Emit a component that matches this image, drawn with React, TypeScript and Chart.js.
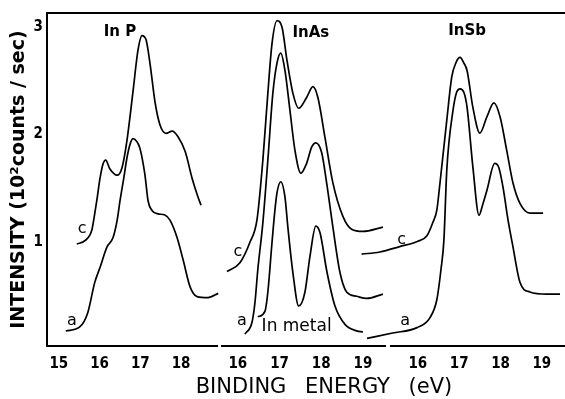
import React, { useEffect, useRef } from "react";
import { Chart, registerables } from "chart.js";
Chart.register(...registerables);

// ---------- data (binding energy in eV, intensity in 10^2 counts/sec) ----------
// InP panel
const inpC_E = [15.44, 15.64, 15.81, 15.88, 15.93, 16.01, 16.08, 16.15, 16.25, 16.43, 16.55, 16.67, 16.82, 16.94, 17.04, 17.14, 17.24, 17.36, 17.48, 17.63, 17.78, 17.92, 18.10, 18.27, 18.42, 18.49];
const inpC_I = [0.98, 1.01, 1.11, 1.26, 1.38, 1.59, 1.72, 1.76, 1.68, 1.62, 1.69, 1.94, 2.40, 2.78, 2.92, 2.88, 2.65, 2.30, 2.09, 2.01, 2.03, 1.98, 1.84, 1.59, 1.41, 1.34];
const inpA_E = [15.17, 15.52, 15.71, 15.88, 16.01, 16.18, 16.33, 16.43, 16.50, 16.60, 16.67, 16.74, 16.82, 16.92, 16.99, 17.11, 17.19, 17.29, 17.43, 17.60, 17.73, 17.90, 18.05, 18.22, 18.39, 18.66, 18.91];
const inpA_I = [0.17, 0.21, 0.34, 0.62, 0.76, 0.95, 1.04, 1.20, 1.38, 1.61, 1.78, 1.90, 1.96, 1.93, 1.87, 1.63, 1.38, 1.29, 1.26, 1.25, 1.20, 1.04, 0.83, 0.58, 0.49, 0.48, 0.52];

// InAs panel
const inasC_E = [15.74, 16.05, 16.29, 16.46, 16.60, 16.72, 16.82, 16.94, 17.06, 17.18, 17.32, 17.46, 17.65, 17.80, 17.92, 18.09, 18.28, 18.52, 18.73, 19.00, 19.48];
const inasC_I = [0.72, 0.80, 0.99, 1.20, 1.75, 2.37, 2.83, 3.04, 2.98, 2.67, 2.37, 2.23, 2.33, 2.43, 2.33, 1.96, 1.54, 1.23, 1.11, 1.09, 1.13];
const inasA_E = [16.17, 16.34, 16.41, 16.48, 16.60, 16.72, 16.84, 16.94, 17.03, 17.13, 17.25, 17.37, 17.51, 17.65, 17.77, 17.87, 18.01, 18.13, 18.28, 18.45, 18.61, 18.85, 19.09, 19.48];
const inasA_I = [0.14, 0.25, 0.43, 0.74, 1.17, 1.75, 2.37, 2.65, 2.74, 2.58, 2.21, 1.84, 1.63, 1.72, 1.87, 1.91, 1.82, 1.54, 1.13, 0.71, 0.53, 0.49, 0.47, 0.51];
const inMetal_E = [16.48, 16.65, 16.72, 16.82, 16.89, 16.94, 17.03, 17.13, 17.20, 17.32, 17.46, 17.61, 17.73, 17.87, 17.97, 18.14, 18.33, 18.57, 18.85, 19.00];
const inMetal_I = [0.30, 0.35, 0.53, 0.99, 1.29, 1.45, 1.55, 1.41, 1.13, 0.71, 0.40, 0.53, 0.86, 1.14, 1.08, 0.71, 0.40, 0.23, 0.17, 0.16];

// InSb panel
const insbC_E = [14.64, 15.08, 15.56, 16.00, 16.22, 16.36, 16.46, 16.53, 16.70, 16.82, 16.92, 17.02, 17.11, 17.19, 17.33, 17.50, 17.67, 17.84, 17.99, 18.15, 18.30, 18.47, 18.71, 19.03];
const insbC_I = [0.88, 0.90, 0.95, 1.00, 1.05, 1.17, 1.29, 1.52, 2.12, 2.52, 2.65, 2.70, 2.65, 2.58, 2.24, 2.00, 2.15, 2.28, 2.15, 1.84, 1.54, 1.35, 1.26, 1.26];
const insbA_E = [14.77, 15.39, 15.98, 16.29, 16.46, 16.56, 16.63, 16.70, 16.85, 16.94, 17.02, 17.11, 17.19, 17.33, 17.48, 17.57, 17.67, 17.86, 17.96, 18.06, 18.18, 18.30, 18.47, 18.71, 19.12, 19.44];
const insbA_I = [0.10, 0.15, 0.20, 0.29, 0.46, 0.74, 1.01, 1.66, 2.21, 2.38, 2.41, 2.38, 2.24, 1.69, 1.24, 1.34, 1.47, 1.72, 1.68, 1.50, 1.20, 0.95, 0.62, 0.53, 0.51, 0.51];

// tick labels
const ticksInP = [15, 16, 17, 18];
const ticksInAs = [16, 17, 18, 19];
const ticksInSb = [16, 17, 18, 19];
const yTicks = [1, 2, 3];

// text labels: [text, energy, intensity]
const labelsInP: [string, number, number][] = [["In P", 16.5, 2.95], ["c", 15.57, 1.12], ["a", 15.32, 0.26]];
const labelsInAs: [string, number, number][] = [["InAs", 17.75, 2.93], ["c", 16.0, 0.9], ["a", 16.1, 0.26], ["In metal", 17.41, 0.21]];
const labelsInSb: [string, number, number][] = [["InSb", 17.19, 2.94], ["c", 15.61, 1.01], ["a", 15.69, 0.26]];

const W = 565;
const H = 399;
const TICK_FONT = "'DejaVu Sans Condensed', 'Liberation Sans Narrow', 'DejaVu Sans', sans-serif";
const LABEL_FONT = "'DejaVu Sans', sans-serif";

const zip = (e: number[], v: number[]) => e.map((x, i) => ({ x, y: v[i] }));

type Panel = {
  series: { x: number; y: number }[][];
  ticks: number[];
  min: number;
  max: number;
  padLeft: number;
  padRight: number;
  showY: boolean;
  labels: [string, number, number][];
  extra?: (chart: any) => void;
};

const panels: Panel[] = [
  {
    series: [zip(inpC_E, inpC_I), zip(inpA_E, inpA_I)],
    ticks: ticksInP, min: 14.71, max: 18.88, padLeft: 0, padRight: 348, showY: true, labels: labelsInP,
    extra: (chart) => {
      const { ctx, chartArea } = chart;
      ctx.save();
      ctx.strokeStyle = "#000";
      ctx.lineWidth = 2;
      ctx.beginPath();
      ctx.moveTo(chartArea.left - 1, chartArea.top);
      ctx.lineTo(W, chartArea.top);
      ctx.stroke();
      ctx.restore();
    },
  },
  {
    series: [zip(inasC_E, inasC_I), zip(inasA_E, inasA_I), zip(inMetal_E, inMetal_I)],
    ticks: ticksInAs, min: 15.62, max: 19.53, padLeft: 222, padRight: 180, showY: false, labels: labelsInAs,
    extra: (chart) => {
      const { ctx } = chart;
      ctx.save();
      ctx.fillStyle = "#000";
      ctx.font = "21px 'DejaVu Sans', sans-serif";
      try { (ctx as any).wordSpacing = "12px"; } catch (e) {}
      ctx.textAlign = "center";
      ctx.textBaseline = "middle";
      ctx.fillText("BINDING ENERGY (eV)", 324, 388);
      ctx.restore();
    },
  },
  {
    series: [zip(insbC_E, insbC_I), zip(insbA_E, insbA_I)],
    ticks: ticksInSb, min: 15.35, max: 19.56, padLeft: 391, padRight: 0, showY: false, labels: labelsInSb,
  },
];

function PanelChart({ p }: { p: Panel }) {
  const ref = useRef<HTMLCanvasElement>(null);
  useEffect(() => {
    if (!ref.current) return;
    const labelPlugin = {
      id: "panelLabels",
      afterDraw(chart: any) {
        const { ctx, scales } = chart;
        ctx.save();
        ctx.fillStyle = "#000";
        ctx.textAlign = "center";
        ctx.textBaseline = "middle";
        for (const [t, e, v] of p.labels) {
          const isName = t.startsWith("In") && t !== "In metal";
          ctx.font = isName ? `bold 15px ${LABEL_FONT}` : t === "In metal" ? `17px ${LABEL_FONT}` : `16px ${LABEL_FONT}`;
          ctx.fillText(t, scales.x.getPixelForValue(e), scales.y.getPixelForValue(v));
        }
        ctx.restore();
        if (p.extra) p.extra(chart);
      },
    };
    const chart = new Chart(ref.current, {
      type: "line",
      data: {
        datasets: p.series.map((d) => ({
          data: d,
          borderColor: "#000",
          borderWidth: 1.7,
          pointRadius: 0,
          fill: false,
          clip: false as any,
          cubicInterpolationMode: "monotone" as const,
        })),
      },
      options: {
        animation: false,
        responsive: false,
        events: [],
        layout: { padding: { left: p.padLeft, right: p.padRight, top: 11, bottom: 0 } },
        plugins: { legend: { display: false }, tooltip: { enabled: false } },
        scales: {
          x: {
            type: "linear",
            position: "bottom",
            bounds: "data",
            afterDataLimits: (s: any) => { s.min = p.min; s.max = p.max; },
            afterBuildTicks: (s: any) => { s.ticks = p.ticks.map((v) => ({ value: v })); },
            afterFit: (s: any) => { s.height = 53; },
            grid: { display: false, drawTicks: false },
            border: { display: true, color: "#000", width: 2 },
            ticks: {
              color: "#000",
              padding: 9,
              maxRotation: 0,
              autoSkip: false,
              font: { family: TICK_FONT, size: 15, weight: "bold" },
              callback: (v: any) => String(v),
            },
          },
          y: {
            type: "linear",
            display: p.showY,
            min: 0.03,
            max: 3.13,
            afterBuildTicks: (s: any) => { s.ticks = yTicks.map((v) => ({ value: v })); },
            afterFit: (s: any) => { s.width = p.showY ? 47 : 0; },
            grid: { display: false, drawTicks: false },
            border: { display: true, color: "#000", width: 2 },
            ticks: {
              color: "#000",
              padding: 4,
              font: { family: TICK_FONT, size: 15, weight: "bold" },
              callback: (v: any) => String(v),
            },
            title: {
              display: true,
              text: "INTENSITY (10²counts / sec)",
              color: "#000",
              font: { family: LABEL_FONT, size: 19, weight: "bold" },
              padding: { top: 8, bottom: 0 },
            },
          },
        },
      } as any,
      plugins: [labelPlugin],
    });
    return () => chart.destroy();
  }, [p]);
  return (
    <canvas
      ref={ref}
      width={W}
      height={H}
      style={{ position: "absolute", left: 0, top: 0, width: W, height: H }}
    />
  );
}

export default function App() {
  return (
    <div style={{ position: "absolute", left: 0, top: 0, width: W, height: H, background: "#fff" }}>
      {panels.map((p, i) => (
        <PanelChart key={i} p={p} />
      ))}
    </div>
  );
}
